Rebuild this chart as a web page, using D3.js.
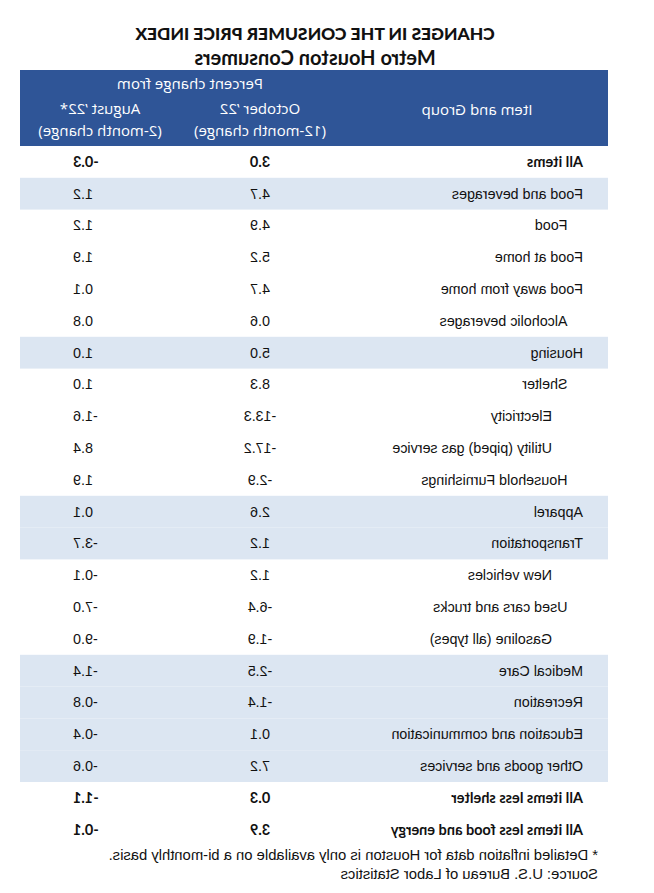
<!DOCTYPE html>
<html>
<head>
<meta charset="utf-8">
<script src="https://cdn.jsdelivr.net/npm/d3@7"></script>
<style>
  html, body { margin: 0; padding: 0; background: #fff; }
  svg { display: block; }
</style>
</head>
<body>
<svg id="chart" width="654" height="893"></svg>
<script>
// ---- Data ----
const items = [
  "All items", "Food and beverages", "Food", "Food at home", "Food away from home",
  "Alcoholic beverages", "Housing", "Shelter", "Electricity", "Utility (piped) gas service",
  "Household Furnishings", "Apparel", "Transportation", "New vehicles", "Used cars and trucks",
  "Gasoline (all types)", "Medical Care", "Recreation", "Education and communication",
  "Other goods and services", "All items less shelter", "All items less food and energy"
];
const indentLevel = [0,0,1,0,0,1,0,1,2,2,1,0,0,2,1,2,0,0,0,0,0,0];
const shaded      = [0,1,0,0,0,0,1,0,0,0,0,1,1,0,0,0,1,1,1,1,0,0];
const boldRow     = [1,0,0,0,0,0,0,0,0,0,0,0,0,0,0,0,0,0,0,0,1,1];
const oct22_12m = ["3.0","4.7","4.9","5.2","4.7","0.6","5.0","8.3","-13.3","-17.2","-2.9","2.6","1.2","1.2","-6.4","-1.9","-2.5","-1.4","0.1","7.2","0.3","3.9"];
const aug22_2m  = ["-0.3","1.2","1.2","1.9","0.1","0.8","1.0","1.0","-1.6","8.4","1.9","0.1","-3.7","-0.1","-7.0","-9.0","-1.4","-0.8","-0.4","-0.6","-1.1","-0.1"];
const title = "CHANGES IN THE CONSUMER PRICE INDEX";
const subtitle = "Metro Houston Consumers";
const colHeaders = [["Item and Group"], ["October \u201922", "(12-month change)"], ["August \u201922*", "(2-month change)"]];
const groupHeader = "Percent change from";
const notes = ["* Detailed inflation data for Houston is only available on a bi-monthly basis.",
               "Source: U.S. Bureau of Labor Statistics"];

// ---- Layout ----
const W = 654;
const left = 46, right = 634;
const headTop = 70, headBottom = 146;
const rowH = 31.8;
const blue = "#2F5597", lightBlue = "#DCE6F2";
const bodyFont = "'Liberation Sans', Arial, sans-serif";
const headFont = "Lato, 'Open Sans', sans-serif";
const hdrFont = "'Open Sans', Lato, sans-serif";

const svg = d3.select("#chart");
// the reference is a horizontally mirrored rendering
const g = svg.append("g").attr("transform", `translate(${W},0) scale(-1,1)`);

const y = d3.scaleBand().domain(d3.range(items.length))
  .range([headBottom, headBottom + rowH * items.length]);
const indentX = d3.scaleLinear().domain([0, 2]).range([71, 102]);
const cx = 339;

// titles
g.append("text").attr("x", cx).attr("y", 40).attr("text-anchor", "middle")
  .style("font-family", headFont).style("font-weight", 900).style("font-size", "17.5px")
  .attr("fill", "#111").text(title);
g.append("text").attr("x", cx).attr("y", 65).attr("text-anchor", "middle")
  .style("font-family", headFont).style("font-weight", 700).style("font-size", "20px")
  .attr("fill", "#111").text(subtitle);

// header
g.append("rect").attr("x", left).attr("y", headTop).attr("width", right - left)
  .attr("height", headBottom - headTop).attr("fill", blue);
const hdr = g.append("g").style("font-family", hdrFont).style("font-size", "15px")
  .attr("fill", "#fff").attr("text-anchor", "middle");
hdr.append("text").attr("x", 464).attr("y", 89).text(groupHeader);
hdr.append("text").attr("x", 177).attr("y", 115).text(colHeaders[0][0]);
const colX = [394, 554];
[1, 2].forEach((c, i) => {
  hdr.append("text").attr("x", colX[i]).attr("y", 114).text(colHeaders[c][0]);
  hdr.append("text").attr("x", colX[i]).attr("y", 136).text(colHeaders[c][1]);
});

// rows
const rows = g.selectAll("g.row").data(items).join("g").attr("class", "row")
  .attr("transform", (d, i) => `translate(0,${y(i)})`);
rows.filter((d, i) => shaded[i]).append("rect")
  .attr("x", left).attr("width", right - left)
  .attr("y", 0).attr("height", y.bandwidth())
  .attr("fill", lightBlue);

rows.each(function(d, i) {
  const r = d3.select(this);
  const b = boldRow[i];
  const ff = b ? headFont : bodyFont;
  const fw = b ? 700 : 400;
  const fs = b ? "14.5px" : "14.3px";
  const base = y.bandwidth() / 2 + 5;
  r.append("text").attr("x", indentX(indentLevel[i])).attr("y", base)
    .style("font-family", ff).style("font-weight", fw).style("font-size", fs)
    .attr("fill", "#111").text(d);
  r.append("text").attr("x", colX[0]).attr("y", base).attr("text-anchor", "middle")
    .style("font-family", ff).style("font-weight", fw).style("font-size", fs)
    .attr("fill", "#111").text(oct22_12m[i]);
  r.append("text").attr("x", 581).attr("y", base).attr("text-anchor", "end")
    .style("font-family", ff).style("font-weight", fw).style("font-size", fs)
    .attr("fill", "#111").text(aug22_2m[i]);
});

// notes
notes.forEach((t, i) => {
  g.append("text").attr("x", 56).attr("y", 860 + i * 19)
    .style("font-family", bodyFont).style("font-size", "14.8px")
    .attr("fill", "#111").text(t);
});
</script>
</body>
</html>
